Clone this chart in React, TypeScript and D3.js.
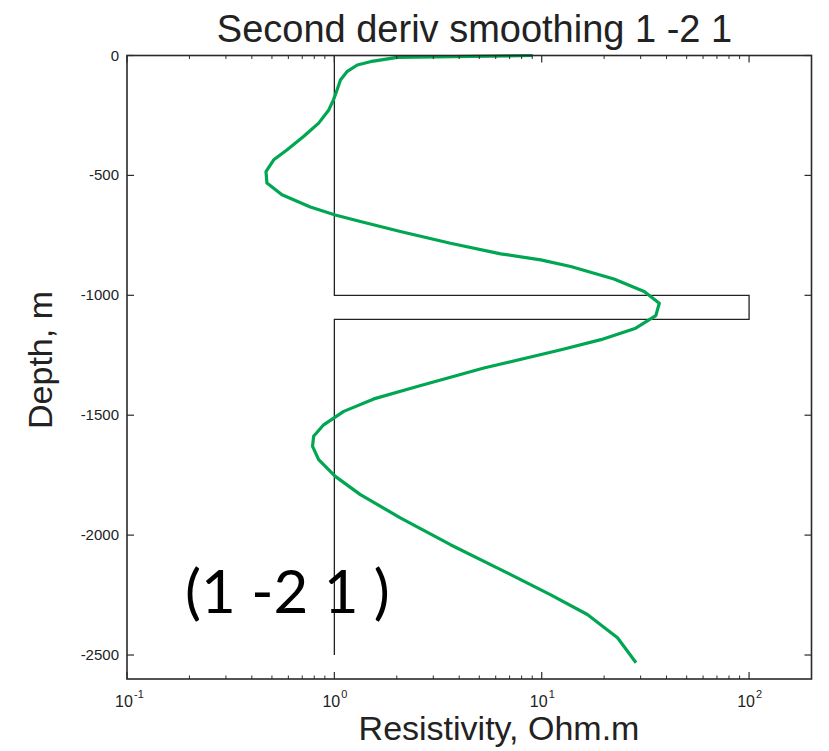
import React from "react";
import * as d3 from "d3";

const curveRes = [9.05, 2.01, 1.49, 1.29, 1.15, 1.07, 1.03, 0.99, 0.94, 0.84, 0.71, 0.59, 0.51, 0.468, 0.473, 0.559, 0.766, 1.01, 1.335, 2.08, 3.63, 6.34, 9.89, 13.8, 22.3, 31.2, 36.9, 35.5, 28.4, 19.3, 12.4, 5.26, 2.51, 1.55, 1.11, 0.888, 0.794, 0.785, 0.84, 1.01, 1.335, 2.08, 3.63, 6.34, 11.0, 16.6, 23.2, 28.5];
const curveDepth = [0, -7.5, -25.8, -39.6, -67.5, -102, -144, -185, -227, -282, -338, -394, -435, -484, -532, -581, -632, -665, -692, -734, -783, -827, -852, -880, -932, -984, -1033, -1085, -1137, -1185, -1227, -1303, -1380, -1432, -1484, -1540, -1588, -1630, -1685, -1755, -1831, -1928, -2040, -2144, -2248, -2331, -2428, -2532];

const modelRes = [1, 1, 100, 100, 1, 1];
const modelDepth = [0, -1000, -1000, -1100, -1100, -2500];

const yTicks = [0, -500, -1000, -1500, -2000, -2500];
const xMajorExp = [-1, 0, 1, 2];

const W = 829, H = 751;
const L = 127, R = 811.5, T = 55.5, B = 679;
const FONT = "'Liberation Sans', Arial, Helvetica, sans-serif";
const AX = "#2a2a2a";

export default function App() {
  const x = d3.scaleLog().domain([0.1, 200]).range([L, R]);
  const y = d3.scaleLinear().domain([-2600, 0]).range([B, T]);

  const minor: number[] = [];
  [0.1, 1, 10, 100].forEach((d) => {
    for (let k = 2; k <= 9; k++) {
      const v = d * k;
      if (v < 200) minor.push(v);
    }
  });

  const line = d3.line<[number, number]>().x((d) => x(d[0])).y((d) => y(d[1]));
  const curvePts = curveRes.map((r, i) => [r, curveDepth[i]] as [number, number]);
  const modelPts = modelRes.map((r, i) => [r, modelDepth[i]] as [number, number]);

  return (
    <svg width={W} height={H} style={{ position: "absolute", left: 0, top: 0, background: "#fff" }}>
      <rect x={0} y={0} width={W} height={H} fill="#fff" />
      {/* model */}
      <path d={line(modelPts) || ""} fill="none" stroke="#222" strokeWidth={1.3} />
      {/* smoothed curve */}
      <path d={line(curvePts) || ""} fill="none" stroke="#00a651" strokeWidth={3.2} strokeLinejoin="round" />
      {/* box */}
      <rect x={L} y={T} width={R - L} height={B - T} fill="none" stroke={AX} strokeWidth={1.6} />
      {/* x ticks */}
      {xMajorExp.map((e) => {
        const px = x(Math.pow(10, e));
        return (
          <g key={"xm" + e}>
            <line x1={px} x2={px} y1={B} y2={B - 7} stroke={AX} strokeWidth={1.2} />
            <line x1={px} x2={px} y1={T} y2={T + 7} stroke={AX} strokeWidth={1.2} />
            <text x={px - 3} y={707} textAnchor="middle" fontFamily={FONT} fontSize={16} fill="#222">
              10
            </text>
            <text x={px + 7} y={698} textAnchor="start" fontFamily={FONT} fontSize={11} fill="#222">
              {String(e)}
            </text>
          </g>
        );
      })}
      {minor.map((v, i) => {
        const px = x(v);
        return (
          <g key={"xn" + i}>
            <line x1={px} x2={px} y1={B} y2={B - 3.5} stroke={AX} strokeWidth={1} />
            <line x1={px} x2={px} y1={T} y2={T + 3.5} stroke={AX} strokeWidth={1} />
          </g>
        );
      })}
      {/* y ticks */}
      {yTicks.map((t) => {
        const py = y(t);
        return (
          <g key={"y" + t}>
            <line x1={L} x2={L + 7} y1={py} y2={py} stroke={AX} strokeWidth={1.2} />
            <line x1={R} x2={R - 7} y1={py} y2={py} stroke={AX} strokeWidth={1.2} />
            <text x={119} y={py + 5} textAnchor="end" fontFamily={FONT} fontSize={15} fill="#222">
              {String(t)}
            </text>
          </g>
        );
      })}
      {/* title */}
      <text x={474.5} y={42} textAnchor="middle" fontFamily={FONT} fontSize={38} fill="#222">
        Second deriv smoothing 1 -2 1
      </text>
      {/* axis labels */}
      <text x={499} y={740} textAnchor="middle" fontFamily={FONT} fontSize={34} fill="#222">
        Resistivity, Ohm.m
      </text>
      <text
        transform={`translate(52, 360) rotate(-90)`}
        textAnchor="middle"
        fontFamily={FONT}
        fontSize={34}
        fill="#222"
      >
        Depth, m
      </text>
      {/* annotation */}
      <text x={185} y={613} fontFamily="Lato, 'Open Sans', sans-serif" fontSize={60} fill="#000">
        (1 -2 1 )
      </text>
    </svg>
  );
}
